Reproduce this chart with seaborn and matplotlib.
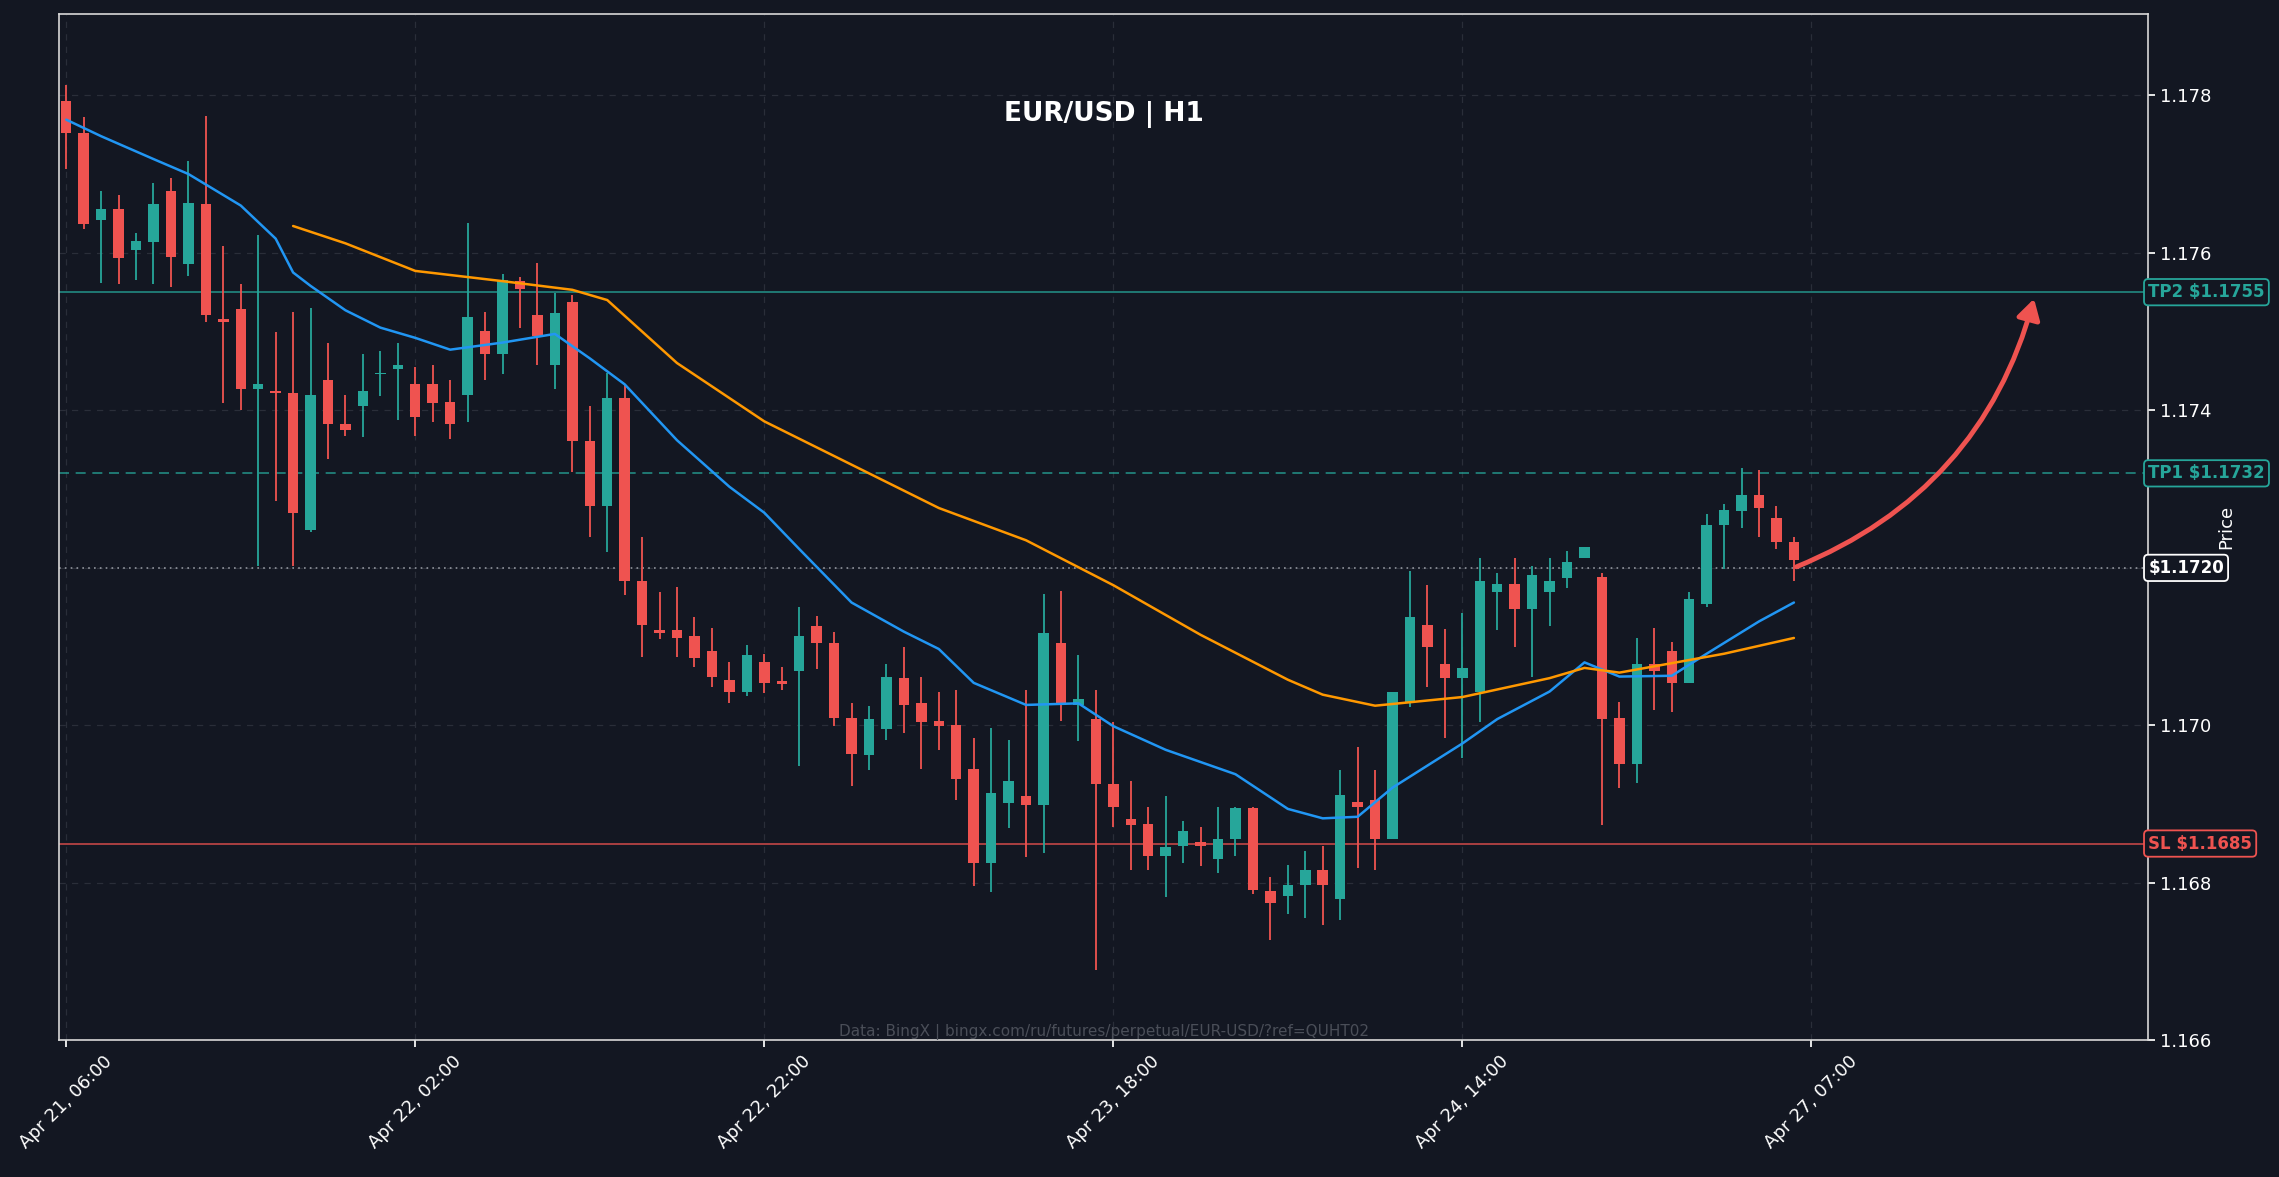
import numpy as np
import pandas as pd
import matplotlib
matplotlib.use("Agg")
import matplotlib.pyplot as plt
import seaborn as sns
from matplotlib.patches import FancyArrowPatch

# OHLC (velas H1)
opens = [1.17793, 1.17752, 1.17641, 1.17656, 1.17604, 1.17614, 1.17678, 1.17586, 1.17662, 1.17516,
         1.17529, 1.17427, 1.17425, 1.17422, 1.17248, 1.17438, 1.17383, 1.17405, 1.17446, 1.17453,
         1.17434, 1.17433, 1.17410, 1.17420, 1.17501, 1.17471, 1.17564, 1.17521, 1.17458, 1.17538,
         1.17361, 1.17279, 1.17416, 1.17183, 1.17121, 1.17121, 1.17113, 1.17095, 1.17058, 1.17043,
         1.17080, 1.17056, 1.17069, 1.17126, 1.17104, 1.17010, 1.16962, 1.16995, 1.17060, 1.17028,
         1.17006, 1.17001, 1.16945, 1.16825, 1.16901, 1.16910, 1.16899, 1.17104, 1.17026, 1.17008,
         1.16925, 1.16881, 1.16875, 1.16834, 1.16847, 1.16852, 1.16830, 1.16856, 1.16895, 1.16790,
         1.16784, 1.16797, 1.16816, 1.16780, 1.16903, 1.16905, 1.16856, 1.17030, 1.17128, 1.17078,
         1.17060, 1.17043, 1.17169, 1.17180, 1.17148, 1.17169, 1.17187, 1.17213, 1.17189, 1.17010,
         1.16951, 1.17078, 1.17095, 1.17054, 1.17154, 1.17254, 1.17272, 1.17292, 1.17263, 1.17233]
highs = [1.17813, 1.17772, 1.17678, 1.17673, 1.17625, 1.17689, 1.17695, 1.17717, 1.17774, 1.17608,
         1.17560, 1.17623, 1.17499, 1.17525, 1.17530, 1.17486, 1.17420, 1.17471, 1.17475, 1.17486,
         1.17455, 1.17457, 1.17438, 1.17638, 1.17525, 1.17573, 1.17569, 1.17587, 1.17549, 1.17546,
         1.17405, 1.17447, 1.17433, 1.17239, 1.17169, 1.17176, 1.17137, 1.17124, 1.17080, 1.17102,
         1.17091, 1.17074, 1.17150, 1.17139, 1.17119, 1.17028, 1.17025, 1.17078, 1.17100, 1.17062,
         1.17043, 1.17045, 1.16984, 1.16997, 1.16982, 1.17045, 1.17167, 1.17171, 1.17089, 1.17045,
         1.17004, 1.16929, 1.16897, 1.16910, 1.16879, 1.16871, 1.16897, 1.16897, 1.16897, 1.16808,
         1.16823, 1.16840, 1.16847, 1.16943, 1.16973, 1.16943, 1.17043, 1.17196, 1.17178, 1.17122,
         1.17143, 1.17213, 1.17194, 1.17213, 1.17202, 1.17213, 1.17222, 1.17226, 1.17193, 1.17030,
         1.17111, 1.17124, 1.17106, 1.17169, 1.17269, 1.17281, 1.17327, 1.17324, 1.17278, 1.17239]
lows = [1.17706, 1.17630, 1.17562, 1.17560, 1.17566, 1.17560, 1.17556, 1.17571, 1.17512, 1.17409,
        1.17401, 1.17202, 1.17285, 1.17202, 1.17246, 1.17338, 1.17368, 1.17366, 1.17418, 1.17388,
        1.17368, 1.17385, 1.17364, 1.17385, 1.17438, 1.17446, 1.17505, 1.17457, 1.17427, 1.17322,
        1.17239, 1.17220, 1.17165, 1.17087, 1.17110, 1.17087, 1.17074, 1.17049, 1.17028, 1.17037,
        1.17041, 1.17045, 1.16949, 1.17071, 1.16999, 1.16923, 1.16943, 1.16982, 1.16990, 1.16945,
        1.16969, 1.16905, 1.16796, 1.16788, 1.16870, 1.16833, 1.16838, 1.17006, 1.16980, 1.16689,
        1.16871, 1.16816, 1.16816, 1.16782, 1.16825, 1.16821, 1.16812, 1.16834, 1.16786, 1.16727,
        1.16760, 1.16756, 1.16747, 1.16753, 1.16819, 1.16816, 1.16856, 1.17023, 1.17049, 1.16984,
        1.16958, 1.17004, 1.17121, 1.17100, 1.17062, 1.17126, 1.17174, 1.17213, 1.16873, 1.16921,
        1.16927, 1.17019, 1.17017, 1.17054, 1.17150, 1.17198, 1.17250, 1.17239, 1.17224, 1.17183]
closes = [1.17752, 1.17636, 1.17656, 1.17593, 1.17615, 1.17662, 1.17595, 1.17663, 1.17521, 1.17512,
          1.17427, 1.17434, 1.17422, 1.17270, 1.17420, 1.17383, 1.17375, 1.17425, 1.17447, 1.17458,
          1.17392, 1.17409, 1.17383, 1.17519, 1.17471, 1.17566, 1.17554, 1.17494, 1.17523, 1.17361,
          1.17279, 1.17416, 1.17183, 1.17128, 1.17117, 1.17111, 1.17086, 1.17062, 1.17043, 1.17089,
          1.17054, 1.17052, 1.17113, 1.17104, 1.17010, 1.16964, 1.17008, 1.17062, 1.17026, 1.17004,
          1.16999, 1.16932, 1.16825, 1.16914, 1.16929, 1.16899, 1.17117, 1.17026, 1.17034, 1.16925,
          1.16897, 1.16873, 1.16834, 1.16845, 1.16866, 1.16847, 1.16856, 1.16895, 1.16791, 1.16774,
          1.16797, 1.16816, 1.16797, 1.16912, 1.16897, 1.16856, 1.17043, 1.17137, 1.17100, 1.17060,
          1.17073, 1.17183, 1.17180, 1.17148, 1.17191, 1.17183, 1.17207, 1.17226, 1.17008, 1.16951,
          1.17078, 1.17069, 1.17054, 1.17161, 1.17254, 1.17274, 1.17292, 1.17276, 1.17233, 1.17210]

# Medias moviles
ma_fast_idx = [0, 2, 5, 7, 10, 12, 13, 14, 16, 18, 20, 22, 25, 28, 30, 32, 35, 38, 40, 42, 45, 48, 50, 52, 55,
               58, 60, 63, 67, 70, 72, 74, 76, 78, 80, 82, 85, 87, 89, 92, 94, 97, 99]
ma_fast = [1.17769, 1.17748, 1.17719, 1.17700, 1.17660, 1.17618, 1.17575, 1.17558, 1.17527, 1.17505,
           1.17492, 1.17477, 1.17486, 1.17497, 1.17466,
           1.17433, 1.17362, 1.17303, 1.17270, 1.17224, 1.17156, 1.17119, 1.17097, 1.17054, 1.17026,
           1.17028, 1.16999, 1.16969, 1.16938, 1.16894, 1.16882, 1.16884, 1.16921, 1.16949, 1.16977,
           1.17008, 1.17043, 1.17080, 1.17062, 1.17063, 1.17091, 1.17132, 1.17156]
ma_slow_idx = [13, 16, 20, 25, 29, 31, 35, 40, 45, 50, 55, 60, 65, 70, 72, 75, 80, 85, 87, 89, 95, 99]
ma_slow = [1.17634, 1.17612, 1.17577, 1.17564, 1.17553, 1.17540, 1.17460, 1.17386, 1.17331, 1.17276,
           1.17235, 1.17178, 1.17115, 1.17058, 1.17039, 1.17025, 1.17036, 1.17060, 1.17073, 1.17067,
           1.17091, 1.17111]

tick_idx = [0, 20, 40, 60, 80, 100]
tick_labels = ["Apr 21, 06:00", "Apr 22, 02:00", "Apr 22, 22:00", "Apr 23, 18:00", "Apr 24, 14:00", "Apr 27, 07:00"]

tp2, tp1, current, sl = 1.1755, 1.1732, 1.1720, 1.1685

BG = "#131722"
GREEN = "#26a69a"
RED = "#ef5350"

sns.set_theme(style="dark")
plt.rcParams['font.family'] = ['DejaVu Sans']

fig = plt.figure(figsize=(22.79, 11.77), dpi=100, facecolor=BG)
ax = fig.add_axes([0.026, 0.116, 0.9166, 0.872])
ax.set_facecolor(BG)

df = pd.DataFrame({"open": opens, "high": highs, "low": lows, "close": closes})
df["i"] = np.arange(len(df))
up = df["close"] >= df["open"]
colors = np.where(up, GREEN, RED)

ax.vlines(df["i"], df["low"], df["high"], colors=colors, linewidth=1.3, zorder=2)
body_h = (df["close"] - df["open"]).abs().clip(lower=0.00002)
ax.bar(df["i"], body_h, bottom=df[["open", "close"]].min(axis=1), width=0.6,
       color=colors, zorder=3, linewidth=0)

sns.lineplot(x=ma_fast_idx, y=ma_fast, ax=ax, color="#2196f3", linewidth=1.8, zorder=4)
sns.lineplot(x=ma_slow_idx, y=ma_slow, ax=ax, color="#ff9800", linewidth=1.8, zorder=4)

# Niveles
ax.axhline(tp2, color=GREEN, linewidth=1.2, alpha=0.8, zorder=1)
ax.axhline(tp1, color=GREEN, linewidth=1.2, linestyle=(0, (6, 4)), alpha=0.8, zorder=1)
ax.axhline(current, color="#b0b4bc", linewidth=1.2, linestyle=(0, (1, 2.5)), alpha=0.8, zorder=1)
ax.axhline(sl, color=RED, linewidth=1.2, alpha=0.8, zorder=1)

trans = ax.get_yaxis_transform()
for val, txt, col in [(tp2, "TP2 $1.1755", GREEN), (tp1, "TP1 $1.1732", GREEN),
                      (current, "$1.1720", "white"), (sl, "SL $1.1685", RED)]:
    ax.text(1.0, val, txt, transform=trans, color=col, fontsize=12, fontweight="bold",
            va="center", ha="left", zorder=6, clip_on=False,
            bbox=dict(boxstyle="round,pad=0.25", facecolor=BG, edgecolor=col, linewidth=1.3))

arrow = FancyArrowPatch((99, 1.1720), (112.8, 1.17545), connectionstyle="arc3,rad=0.25",
                        arrowstyle="-|>,head_length=12,head_width=7", color=RED,
                        linewidth=3.5, zorder=5)
ax.add_patch(arrow)

ax.text(0.5, 0.915, "EUR/USD | H1", transform=ax.transAxes, color="white", fontsize=19,
        fontweight="bold", ha="center", va="top")
ax.text(0.5, 0.0, "Data: BingX | bingx.com/ru/futures/perpetual/EUR-USD/?ref=QUHT02",
        transform=ax.transAxes, color="#4a4e58", fontsize=11, ha="center", va="bottom")

ax.set_xlim(-0.4, 119.3)
ax.set_ylim(1.1660, 1.17903)
yt = [1.166, 1.168, 1.170, 1.172, 1.174, 1.176, 1.178]
ax.set_yticks(yt)
ax.set_yticklabels([f"{v:.3f}" for v in yt])
ax.yaxis.tick_right()
ax.yaxis.set_label_position("right")
ax.set_ylabel("Price", color="white", fontsize=13)
ax.set_xticks(tick_idx)
ax.set_xticklabels(tick_labels, rotation=45, ha="center")
ax.tick_params(colors="white", labelsize=13, length=5, left=False, bottom=True, right=True)
ax.set_xlabel("")
ax.grid(True, color="#2a2e39", linestyle=(0, (5, 5)), linewidth=0.9)
for s in ax.spines.values():
    s.set_color("#d8d8d8")
    s.set_linewidth(1.2)

fig.savefig("out.png", dpi=100, facecolor=BG)
